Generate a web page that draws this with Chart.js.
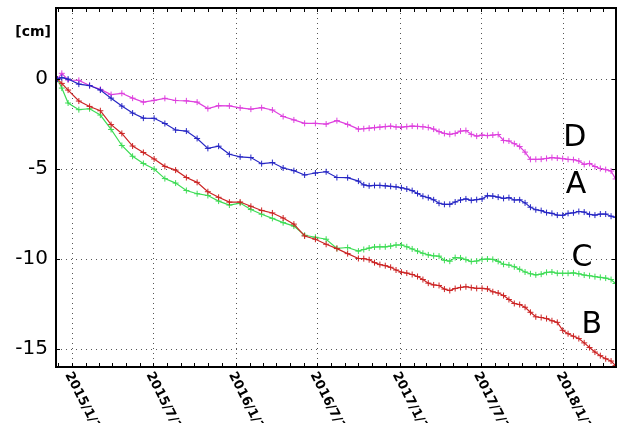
<!DOCTYPE html>
<html>
<head>
<meta charset="utf-8">
<script src="https://cdn.jsdelivr.net/npm/chart.js@4.4.1/dist/chart.umd.min.js"></script>
<style>
  html, body { margin: 0; padding: 0; background: #fff; }
</style>
</head>
<body>
<canvas id="chart" width="621" height="423"></canvas>
<script>
// acquisition dates (shared by all four points)
const dates = [
  '2014-11-29','2014-12-09','2014-12-23','2015-01-16','2015-02-09','2015-03-05','2015-03-29','2015-04-22',
  '2015-05-16','2015-06-09','2015-07-03','2015-07-27','2015-08-20','2015-09-13','2015-10-07','2015-10-31',
  '2015-11-24','2015-12-18','2016-01-11','2016-02-04','2016-02-28','2016-03-23','2016-04-16','2016-05-10',
  '2016-06-03','2016-06-27','2016-07-21','2016-08-14','2016-09-07','2016-10-01','2016-10-13','2016-10-25',
  '2016-11-06','2016-11-18','2016-11-30','2016-12-12','2016-12-24','2017-01-05','2017-01-17','2017-01-29',
  '2017-02-10','2017-02-22','2017-03-06','2017-03-18','2017-03-30','2017-04-11','2017-04-23','2017-05-05',
  '2017-05-17','2017-05-29','2017-06-10','2017-06-22','2017-07-04','2017-07-16','2017-07-28','2017-08-09',
  '2017-08-21','2017-09-02','2017-09-14','2017-09-26','2017-10-08','2017-10-20','2017-11-01','2017-11-13',
  '2017-11-25','2017-12-07','2017-12-19','2017-12-31','2018-01-12','2018-01-24','2018-02-05','2018-02-17',
  '2018-03-01','2018-03-13','2018-03-25','2018-04-06','2018-04-18','2018-04-28'
];

// displacement [cm]
const seriesA = [
  0, 0.08, 0, -0.28, -0.36, -0.61, -1.06, -1.5, -1.89, -2.17, -2.18, -2.47, -2.83, -2.89, -3.3, -3.85,
  -3.73, -4.18, -4.32, -4.36, -4.7, -4.64, -4.94, -5.09, -5.33, -5.22, -5.15, -5.47, -5.48, -5.67,
  -5.88, -5.93, -5.91, -5.91, -5.93, -5.96, -5.99, -6.04, -6.11, -6.2, -6.36, -6.51, -6.59, -6.71, -6.9,
  -6.96, -6.96, -6.83, -6.72, -6.66, -6.74, -6.7, -6.66, -6.48, -6.5, -6.56, -6.63, -6.59, -6.72, -6.71,
  -6.88, -7.12, -7.26, -7.31, -7.42, -7.46, -7.56, -7.57, -7.46, -7.43, -7.36, -7.39, -7.52, -7.56,
  -7.5, -7.5, -7.62, -7.68
];
const seriesB = [
  0, -0.24, -0.61, -1.22, -1.52, -1.76, -2.53, -3.02, -3.72, -4.08, -4.44, -4.85, -5.06, -5.47, -5.74, -6.26,
  -6.57, -6.84, -6.83, -7.07, -7.3, -7.44, -7.72, -8.06, -8.72, -8.9, -9.18, -9.42, -9.7, -9.97,
  -9.98, -10.04, -10.2, -10.31, -10.37, -10.46, -10.61, -10.73, -10.78, -10.86, -10.97, -11.14, -11.34, -11.44, -11.47,
  -11.67, -11.75, -11.64, -11.58, -11.54, -11.59, -11.63, -11.63, -11.66, -11.82, -11.89, -12.03, -12.25, -12.47, -12.53,
  -12.68, -12.96, -13.21, -13.25, -13.31, -13.43, -13.52, -13.96, -14.15, -14.29, -14.42, -14.66, -14.92, -15.17,
  -15.37, -15.54, -15.67, -15.92
];
const seriesC = [
  0, -0.5, -1.33, -1.7, -1.65, -2.0, -2.8, -3.69, -4.29, -4.69, -5.0, -5.53, -5.78, -6.19, -6.37, -6.47,
  -6.78, -7.0, -6.89, -7.25, -7.51, -7.74, -7.98, -8.17, -8.68, -8.79, -8.9, -9.41, -9.36, -9.56,
  -9.47, -9.39, -9.33, -9.32, -9.32, -9.28, -9.22, -9.22, -9.32, -9.44, -9.56, -9.68, -9.77, -9.82, -9.84,
  -10.07, -10.12, -9.92, -9.94, -10.03, -10.14, -10.11, -10.02, -10.0, -10.02, -10.13, -10.29, -10.33, -10.43, -10.57,
  -10.72, -10.82, -10.88, -10.84, -10.74, -10.72, -10.79, -10.79, -10.79, -10.77, -10.82, -10.89, -10.93, -10.98,
  -11.02, -11.06, -11.14, -11.36
];
const seriesD = [
  0, 0.32, -0.05, -0.07, -0.36, -0.57, -0.86, -0.79, -1.06, -1.28, -1.18, -1.07, -1.19, -1.21, -1.28, -1.64,
  -1.48, -1.49, -1.6, -1.67, -1.59, -1.72, -2.08, -2.27, -2.46, -2.46, -2.5, -2.31, -2.52, -2.78,
  -2.76, -2.73, -2.7, -2.67, -2.64, -2.62, -2.66, -2.67, -2.64, -2.61, -2.63, -2.65, -2.69, -2.78, -2.92,
  -3.02, -3.07, -3.02, -2.89, -2.86, -3.07, -3.17, -3.11, -3.14, -3.11, -3.08, -3.41, -3.44, -3.59, -3.75,
  -4.06, -4.46, -4.46, -4.45, -4.41, -4.36, -4.39, -4.42, -4.46, -4.48, -4.55, -4.74, -4.69, -4.86,
  -4.97, -5.03, -5.11, -5.55
];

const seriesNames = ['A', 'B', 'C', 'D'];
const seriesColors = ['#2626c4', '#cc2424', '#3ddc55', '#de40de'];
// where each letter sits next to its line
const nameDates = ['2018-01-30', '2018-03-06', '2018-02-12', '2018-01-27'];
const nameValues = [-5.92, -13.67, -9.94, -3.28];

const xTickDates = ['2015-01-01', '2015-07-01', '2016-01-01', '2016-07-01', '2017-01-01', '2017-07-01', '2018-01-01'];
const xTickLabels = ['2015/1/1', '2015/7/1', '2016/1/1', '2016/7/1', '2017/1/1', '2017/7/1', '2018/1/1'];
const xRange = ['2014-11-26', '2018-04-29'];
const yTicks = [0, -5, -10, -15];
const yRange = [-16, 3.95];

const epoch = Date.UTC(2015, 0, 1);
function toDay(s) {
  return (Date.parse(s) - epoch) / 86400000;
}

const allSeries = [seriesA, seriesB, seriesC, seriesD];
const datasets = allSeries.map((vals, i) => ({
  label: seriesNames[i],
  data: dates.map((d, k) => ({ x: toDay(d), y: vals[k] })),
  borderColor: seriesColors[i],
  backgroundColor: seriesColors[i],
  borderWidth: 1.2,
  pointStyle: 'cross',
  pointRadius: 3,
  pointBorderWidth: 1,
  tension: 0
}));

// grid, frame, inner ticks, rotated date labels and letters
const decor = {
  id: 'decor',
  beforeDatasetsDraw(chart) {
    const { ctx, chartArea: a, scales: { x, y } } = chart;
    ctx.save();
    ctx.strokeStyle = '#555';
    ctx.lineWidth = 1;
    ctx.setLineDash([1, 4]);
    xTickDates.forEach(d => {
      const px = Math.round(x.getPixelForValue(toDay(d))) + 0.5;
      ctx.beginPath(); ctx.moveTo(px, a.top); ctx.lineTo(px, a.bottom); ctx.stroke();
    });
    yTicks.forEach(v => {
      const py = Math.round(y.getPixelForValue(v)) + 0.5;
      ctx.beginPath(); ctx.moveTo(a.left, py); ctx.lineTo(a.right, py); ctx.stroke();
    });
    ctx.restore();
  },
  afterDraw(chart) {
    const { ctx, chartArea: a, scales: { x, y } } = chart;
    ctx.save();
    ctx.strokeStyle = '#000';
    ctx.lineWidth = 2;
    ctx.strokeRect(a.left, a.top, a.right - a.left, a.bottom - a.top);

    // monthly ticks on top and bottom
    ctx.lineWidth = 1;
    const lo = toDay(xRange[0]), hi = toDay(xRange[1]);
    for (let k = 0; k < 48; k++) {
      const day = (Date.UTC(2014, 11 + k, 1) - epoch) / 86400000;
      if (day <= lo + 3 || day >= hi - 1) continue;
      const px = Math.round(x.getPixelForValue(day)) + 0.5;
      ctx.beginPath();
      ctx.moveTo(px, a.bottom); ctx.lineTo(px, a.bottom - 4);
      ctx.moveTo(px, a.top); ctx.lineTo(px, a.top + 4);
      ctx.stroke();
    }
    yTicks.forEach(v => {
      const py = Math.round(y.getPixelForValue(v)) + 0.5;
      ctx.beginPath();
      ctx.moveTo(a.left, py); ctx.lineTo(a.left + 4, py);
      ctx.moveTo(a.right, py); ctx.lineTo(a.right - 4, py);
      ctx.stroke();
    });

    // rotated date labels
    ctx.fillStyle = '#000';
    ctx.font = 'bold 13px "DejaVu Sans"';
    ctx.textAlign = 'left';
    ctx.textBaseline = 'middle';
    xTickDates.forEach((d, i) => {
      const px = x.getPixelForValue(toDay(d));
      ctx.save();
      ctx.translate(px - 4, a.bottom + 6);
      ctx.rotate(63 * Math.PI / 180);
      ctx.fillText(xTickLabels[i], 0, 0);
      ctx.restore();
    });

    // unit
    ctx.font = 'bold 14px "DejaVu Sans"';
    ctx.textAlign = 'right';
    ctx.fillText('[cm]', a.left - 5, a.top + 24);

    // series letters
    ctx.font = '30px "DejaVu Sans"';
    ctx.textAlign = 'center';
    seriesNames.forEach((n, i) => {
      ctx.fillText(n, x.getPixelForValue(toDay(nameDates[i])), y.getPixelForValue(nameValues[i]));
    });
    ctx.restore();
  }
};

new Chart(document.getElementById('chart').getContext('2d'), {
  type: 'line',
  data: { datasets },
  options: {
    responsive: false,
    animation: false,
    layout: { padding: { top: 8, right: 3, left: 0, bottom: 0 } },
    plugins: { legend: { display: false }, tooltip: { enabled: false } },
    scales: {
      x: {
        type: 'linear',
        min: toDay(xRange[0]),
        max: toDay(xRange[1]),
        grid: { display: false, drawTicks: false },
        border: { display: false },
        ticks: { display: false },
        afterBuildTicks: s => { s.ticks = xTickDates.map(d => ({ value: toDay(d) })); },
        afterFit: s => { s.height = 56; s.paddingLeft = 0; s.paddingRight = 0; }
      },
      y: {
        min: yRange[0],
        max: yRange[1],
        grid: { display: false, drawTicks: false },
        border: { display: false },
        ticks: {
          color: '#000',
          padding: 8,
          font: { family: 'DejaVu Sans', size: 20 }
        },
        afterBuildTicks: s => { s.ticks = yTicks.map(v => ({ value: v })); },
        afterFit: s => { s.width = 56; s.paddingTop = 0; s.paddingBottom = 0; }
      }
    }
  },
  plugins: [decor]
});
</script>
</body>
</html>
